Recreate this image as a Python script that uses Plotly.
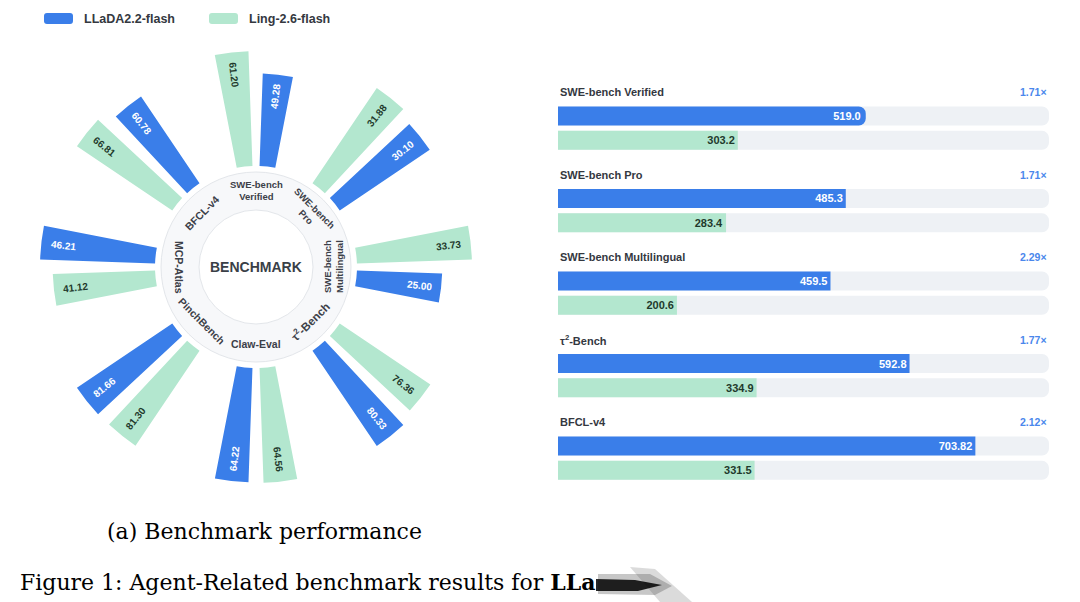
"""
Agent benchmark figure: radial score chart (left) plus throughput bars (right).
"""

import math

import plotly.graph_objects as go

# ---------------------------------------------------------------------------
# Data
# ---------------------------------------------------------------------------

# Radial panel, clockwise from the top
RADIAL_CATS = [
    "SWE-bench<br>Verified",
    "SWE-bench<br>Pro",
    "SWE-bench<br>Multilingual",
    "τ<sup>2</sup>-Bench",
    "Claw-Eval",
    "PinchBench",
    "MCP-Atlas",
    "BFCL-v4",
]
RADIAL_LLADA = [49.28, 30.10, 25.00, 80.33, 64.22, 81.66, 46.21, 60.78]
RADIAL_LING = [61.20, 31.88, 33.73, 76.36, 64.56, 81.30, 41.12, 66.81]

# Throughput panel
TP_CATS = [
    "SWE-bench Verified",
    "SWE-bench Pro",
    "SWE-bench Multilingual",
    "τ<sup>2</sup>-Bench",
    "BFCL-v4",
]
TP_LLADA = [519.0, 485.3, 459.5, 592.8, 703.82]
TP_LING = [303.2, 283.4, 200.6, 334.9, 331.5]

SERIES = ["LLaDA2.2-flash", "Ling-2.6-flash"]

# ---------------------------------------------------------------------------
# Styling / geometry
# ---------------------------------------------------------------------------

W, H = 1080, 602
BLUE = "#3a7ee9"
GREEN = "#b3e7cf"
GREEN_TEXT = "#1f3a2c"
TRACK = "#eef1f5"
DARK = "#34383f"
FONT = "Liberation Sans, Arial, sans-serif"
SERIF = "DejaVu Serif, Liberation Serif, serif"

CX, CY = 256, 267          # radial centre, px
BASE_PX, LEN_PX = 101, 115  # where bars start, length of the longest bar
R_MAX = 1.9                 # radial range in units of LEN_PX
R_PX = R_MAX * LEN_PX
STEP = 360 / len(RADIAL_CATS)
OFFSET, BAR_W = 6.5, 9

X_MAX = 828                 # throughput axis limit


def px(x, y):
    """Pixel position -> paper coordinates."""
    return x / W, 1 - y / H


def rounded_rect(x0, y0, x1, y1, r):
    """SVG path (paper coords) for a rounded rectangle given in px."""
    def p(x, y):
        a, b = px(x, y)
        return f"{a:.5f},{b:.5f}"
    return " ".join([
        f"M{p(x0 + r, y0)}", f"L{p(x1 - r, y0)}", f"Q{p(x1, y0)} {p(x1, y0 + r)}",
        f"L{p(x1, y1 - r)}", f"Q{p(x1, y1)} {p(x1 - r, y1)}", f"L{p(x0 + r, y1)}",
        f"Q{p(x0, y1)} {p(x0, y1 - r)}", f"L{p(x0, y0 + r)}", f"Q{p(x0, y0)} {p(x0 + r, y0)}Z",
    ])


def poly(points):
    return "M" + " L".join("{:.5f},{:.5f}".format(*px(x, y)) for x, y in points) + " Z"


fig = go.Figure()

# ---------------------------------------------------------------------------
# Radial panel
# ---------------------------------------------------------------------------

cat_max = [max(a, b) for a, b in zip(RADIAL_LLADA, RADIAL_LING)]
norm_llada = [v / m for v, m in zip(RADIAL_LLADA, cat_max)]
norm_ling = [v / m for v, m in zip(RADIAL_LING, cat_max)]
centres = [i * STEP for i in range(len(RADIAL_CATS))]
theta_ling = [c - OFFSET for c in centres]
theta_llada = [c + OFFSET for c in centres]
base = BASE_PX / LEN_PX
hover_cats = [c.replace("<br>", " ") for c in RADIAL_CATS]

fig.add_trace(go.Barpolar(
    r=norm_ling, theta=theta_ling, base=base, width=BAR_W,
    marker=dict(color=GREEN, line=dict(width=0)),
    name=SERIES[1], customdata=list(zip(hover_cats, RADIAL_LING)),
    hovertemplate="%{customdata[0]}<br>" + SERIES[1] + ": %{customdata[1]:.2f}<extra></extra>",
))
fig.add_trace(go.Barpolar(
    r=norm_llada, theta=theta_llada, base=base, width=BAR_W,
    marker=dict(color=BLUE, line=dict(width=0)),
    name=SERIES[0], customdata=list(zip(hover_cats, RADIAL_LLADA)),
    hovertemplate="%{customdata[0]}<br>" + SERIES[0] + ": %{customdata[1]:.2f}<extra></extra>",
))

ax_, ay_ = px(CX, CY)
fig.update_layout(
    polar=dict(
        domain=dict(x=[(CX - R_PX) / W, (CX + R_PX) / W],
                    y=[1 - (CY + R_PX) / H, 1 - (CY - R_PX) / H]),
        bgcolor="rgba(0,0,0,0)",
        radialaxis=dict(range=[0, R_MAX], visible=False),
        angularaxis=dict(direction="clockwise", rotation=90, visible=False),
    )
)

shapes = []
# grey label ring and white hub
for rad, fill in [(95, "#f7f8fa"), (57, "white")]:
    shapes.append(dict(
        type="circle", xref="paper", yref="paper", xsizemode="pixel", ysizemode="pixel",
        xanchor=ax_, yanchor=ay_, x0=-rad, x1=rad, y0=-rad, y1=rad,
        fillcolor=fill, line=dict(color="#e3e6ea", width=1), layer="below",
    ))

annotations = []


def polar_note(text, angle, rad, textangle, size, color, weight="bold"):
    a = math.radians(angle)
    annotations.append(dict(
        text=text, xref="paper", yref="paper", x=ax_, y=ay_,
        xanchor="center", yanchor="middle",
        xshift=rad * math.sin(a), yshift=rad * math.cos(a),
        textangle=textangle, showarrow=False,
        font=dict(family=FONT, size=size, color=color, weight=weight),
    ))


for vals, norms, thetas, col in [
    (RADIAL_LING, norm_ling, theta_ling, GREEN_TEXT),
    (RADIAL_LLADA, norm_llada, theta_llada, "white"),
]:
    for v, n, t in zip(vals, norms, thetas):
        t = t % 360
        tangle = t - 90 if t < 180 else t - 270
        polar_note(f"{v:.2f}", t, BASE_PX + n * LEN_PX - 22, tangle, 10, col)

for cat, c in zip(RADIAL_CATS, centres):
    tangle = c if (c < 90 or c > 270) else c - 180
    if tangle > 180:
        tangle -= 360
    size = 9.5 if "<br>" in cat else 10.5
    if cat.startswith("τ"):
        size = 11.5
    polar_note(cat, c, 77, tangle, size, "#3c4048")

polar_note("BENCHMARK", 0, 0, 0, 14, "#3a3f47")

# ---------------------------------------------------------------------------
# Throughput panel
# ---------------------------------------------------------------------------

y_llada = list(range(len(TP_CATS)))
y_ling = [i + 0.295 for i in y_llada]
BAR_H = 0.23

fig.add_trace(go.Bar(
    x=[X_MAX] * (2 * len(TP_CATS)), y=y_llada + y_ling, orientation="h",
    width=BAR_H, marker=dict(color=TRACK, cornerradius=7, line=dict(width=0)),
    hoverinfo="skip", xaxis="x", yaxis="y",
))
for vals, ys, col, tcol, name in [
    (TP_LLADA, y_llada, BLUE, "white", SERIES[0]),
    (TP_LING, y_ling, GREEN, GREEN_TEXT, SERIES[1]),
]:
    fig.add_trace(go.Bar(
        x=vals, y=ys, orientation="h", width=BAR_H, name=name,
        marker=dict(color=col, cornerradius=7, line=dict(width=0)),
        text=[str(v) for v in vals], textposition="inside", insidetextanchor="end",
        textangle=0, textfont=dict(family=FONT, size=11, color=tcol, weight="bold"),
        hovertemplate=name + ": %{x}<extra></extra>",
    ))

fig.update_layout(
    barmode="overlay",
    xaxis=dict(domain=[558 / W, 1049 / W], range=[0, X_MAX], visible=False, fixedrange=True),
    yaxis=dict(domain=[1 - 491.4 / H, 1 - 70.6 / H], range=[4.55, -0.55], visible=False),
)

for i, cat in enumerate(TP_CATS):
    annotations.append(dict(
        text=cat, xref="paper", yref="y", x=558 / W, y=i - 0.29,
        xanchor="left", yanchor="middle", showarrow=False,
        font=dict(family=FONT, size=11, color=DARK, weight="bold"),
    ))
    annotations.append(dict(
        text=f"{TP_LLADA[i] / TP_LING[i]:.2f}×", xref="paper", yref="y", x=1049 / W, y=i - 0.29,
        xanchor="right", yanchor="middle", showarrow=False,
        font=dict(family=FONT, size=10.5, color="#4a87ec", weight="bold"),
    ))

# ---------------------------------------------------------------------------
# Legend, captions
# ---------------------------------------------------------------------------

for (x0, col), label in zip([(44, BLUE), (209, GREEN)], SERIES):
    shapes.append(dict(type="path", path=rounded_rect(x0, 13, x0 + 29, 24, 3),
                       xref="paper", yref="paper", fillcolor=col, line=dict(width=0)))
    lx, ly = px(x0 + 38, 19)
    annotations.append(dict(
        text=label, xref="paper", yref="paper", x=lx, y=ly,
        xanchor="left", yanchor="middle", showarrow=False,
        font=dict(family=FONT, size=12.5, color=DARK, weight="bold"),
    ))

cx_, cy_ = px(264.5, 531)
annotations.append(dict(
    text="(a) Benchmark performance", xref="paper", yref="paper", x=cx_, y=cy_,
    xanchor="center", yanchor="middle", showarrow=False,
    font=dict(family=SERIF, size=22, color="black"),
))
fx_, fy_ = px(18, 582)
annotations.append(dict(
    text="Figure 1: Agent-Related benchmark results for <b>LLa</b>",
    xref="paper", yref="paper", x=fx_, y=fy_, xanchor="left", yanchor="middle",
    showarrow=False, font=dict(family=SERIF, size=22, color="black"),
))

# smeared ink after the caption
for pts, col, op in [
    ([(630, 567), (655, 569), (692, 602), (660, 602)], "#888888", 0.3),
    ([(598, 574), (650, 574), (672, 586), (655, 595), (598, 594)], "#444444", 0.3),
    ([(596, 579), (635, 580), (662, 585), (638, 591), (596, 591)], "black", 0.85),
]:
    shapes.append(dict(type="path", path=poly(pts), xref="paper", yref="paper",
                       fillcolor=col, opacity=op, line=dict(width=0)))

fig.update_layout(
    width=W, height=H, margin=dict(l=0, r=0, t=0, b=0),
    paper_bgcolor="white", plot_bgcolor="white", showlegend=False,
    shapes=shapes, annotations=annotations,
)

fig.write_html("out.html", config={"displayModeBar": False},
               post_script="document.body.style.margin='0';")
